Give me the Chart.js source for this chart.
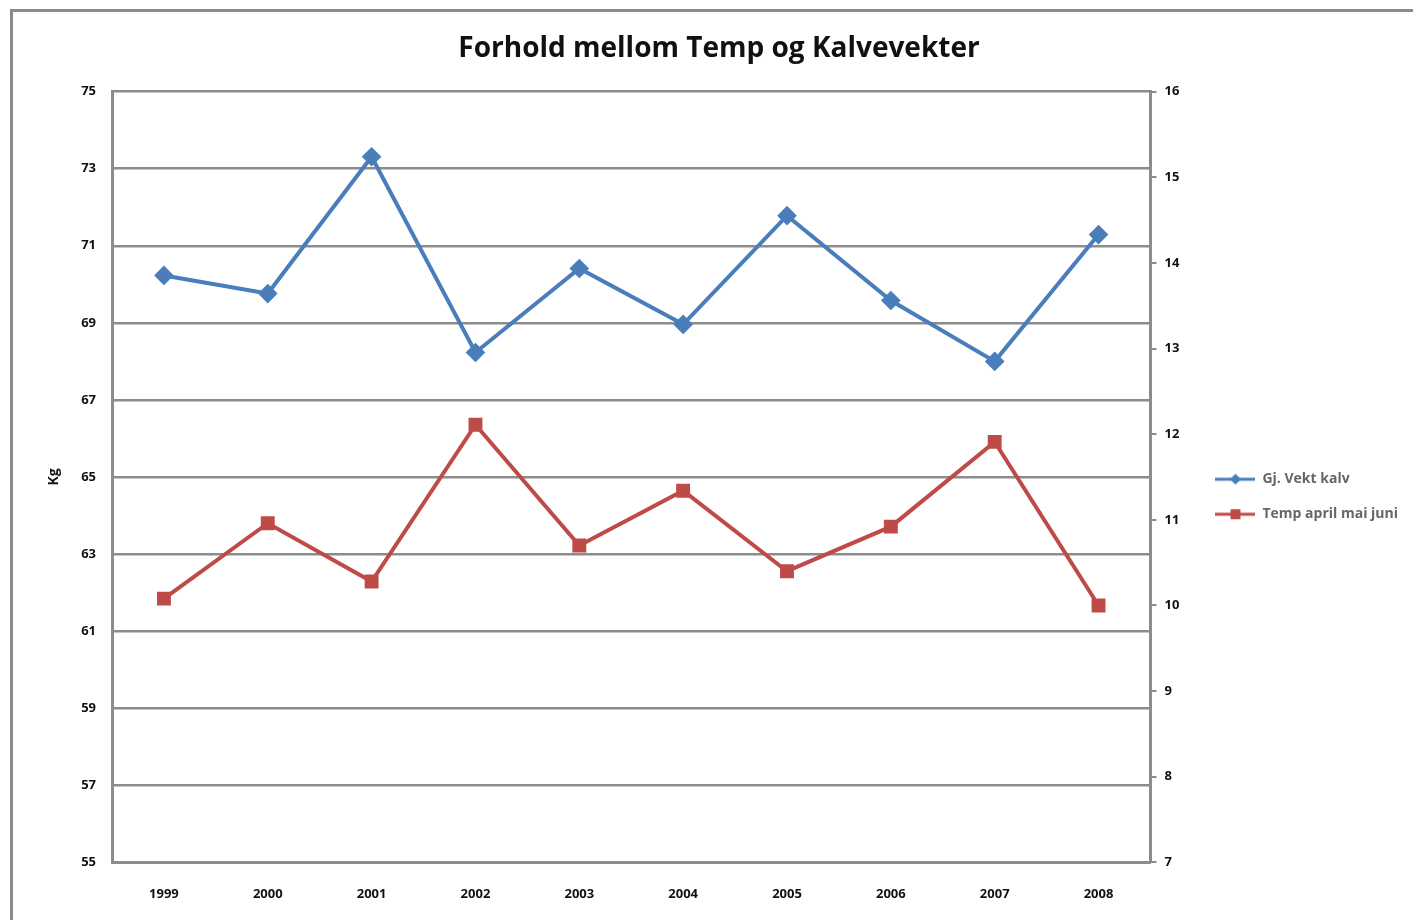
<!DOCTYPE html>
<html><head><meta charset="utf-8">
<script src="https://cdn.jsdelivr.net/npm/chart.js@4"></script>
<style>html,body{margin:0;padding:0;background:#fff}#wrap{width:1413px;height:920px;position:relative}</style>
</head><body><div id="wrap"><canvas id="c" width="1413" height="920"></canvas></div>
<script>
const categories = ['1999','2000','2001','2002','2003','2004','2005','2006','2007','2008'];
const vektKalv = [70.23, 69.76, 73.31, 68.23, 70.41, 68.96, 71.78, 69.58, 68.0, 71.29];
const tempAprilMaiJuni = [10.08, 10.96, 10.28, 12.11, 10.70, 11.34, 10.40, 10.92, 11.91, 10.0];
const seriesNames = ['Gj. Vekt kalv', 'Temp april mai juni'];
const titleText = 'Forhold mellom Temp og Kalvevekter';
const yTitle = 'Kg';

const BLUE = '#4A7EBB', RED = '#BE4B48', GRID = '#8c8c8c';
const FONT = "'Open Sans', 'DejaVu Sans', sans-serif";

function legendIcon(color, shape) {
  const cv = document.createElement('canvas');
  cv.width = 40; cv.height = 14;
  const g = cv.getContext('2d');
  g.strokeStyle = color; g.lineWidth = 3;
  g.beginPath(); g.moveTo(0, 7); g.lineTo(40, 7); g.stroke();
  g.fillStyle = color;
  if (shape === 'diamond') {
    g.beginPath(); g.moveTo(20, 1.5); g.lineTo(25.5, 7); g.lineTo(20, 12.5); g.lineTo(14.5, 7); g.closePath(); g.fill();
  } else {
    g.fillRect(15, 2, 10, 10);
  }
  return cv;
}
const icons = [legendIcon(BLUE, 'diamond'), legendIcon(RED, 'square')];

const outerBorder = {
  id: 'outerBorder',
  beforeDraw(chart) {
    const ctx = chart.ctx;
    ctx.save();
    ctx.fillStyle = '#fff';
    ctx.fillRect(0, 0, chart.width, chart.height);
    ctx.strokeStyle = '#8a8a8a'; ctx.lineWidth = 3;
    ctx.beginPath();
    ctx.moveTo(11.5, 920); ctx.lineTo(11.5, 10.5); ctx.lineTo(1413, 10.5);
    ctx.stroke();
    ctx.restore();
  }
};

new Chart(document.getElementById('c'), {
  type: 'line',
  data: {
    labels: categories,
    datasets: [
      { label: seriesNames[0], data: vektKalv, yAxisID: 'y', borderColor: BLUE, backgroundColor: BLUE,
        borderWidth: 4, pointStyle: 'rectRot', pointRadius: 7, pointHoverRadius: 7, tension: 0 },
      { label: seriesNames[1], data: tempAprilMaiJuni, yAxisID: 'y1', borderColor: RED, backgroundColor: RED,
        borderWidth: 4, pointStyle: 'rect', pointRadius: 7, pointHoverRadius: 7, tension: 0 }
    ]
  },
  options: {
    responsive: false,
    animation: false,
    devicePixelRatio: 1,
    layout: { padding: { left: 30, top: 14, right: 5, bottom: 0 } },
    plugins: {
      tooltip: { enabled: false },
      title: { display: true, text: titleText, color: '#111',
        font: { family: FONT, size: 28, weight: 'bold' }, padding: { top: 18, bottom: 26 } },
      legend: {
        position: 'right',
        title: { display: true, text: '', font: { size: 12 }, padding: { top: 45, bottom: 0 } },
        labels: {
          usePointStyle: true, pointStyleWidth: 40, padding: 21, color: '#111',
          font: { family: FONT, size: 14, weight: 'bold' },
          generateLabels(chart) {
            return chart.data.datasets.map((ds, i) => ({
              text: ds.label, pointStyle: icons[i], datasetIndex: i,
              fillStyle: ds.borderColor, strokeStyle: ds.borderColor, lineWidth: 0, hidden: false
            }));
          }
        }
      }
    },
    scales: {
      x: {
        offset: true,
        grid: { display: false, drawTicks: false },
        border: { display: true, color: GRID, width: 3 },
        ticks: { color: '#111', padding: 24, font: { family: FONT, size: 13, weight: 'bold' } },
        afterFit(s) { s.height -= 6; }
      },
      y: {
        position: 'left', min: 55, max: 75,
        ticks: { stepSize: 2, color: '#111', padding: 16, font: { family: FONT, size: 13, weight: 'bold' } },
        grid: { color: GRID, lineWidth: 2.5, drawTicks: false },
        border: { display: true, color: GRID, width: 3 },
        title: { display: true, text: yTitle, color: '#111', font: { family: FONT, size: 14, weight: 'bold' }, padding: 16 },
        afterFit(s) { s.width = 82; }
      },
      y1: {
        position: 'right', min: 7, max: 16,
        ticks: { stepSize: 1, color: '#111', padding: 8, font: { family: FONT, size: 13, weight: 'bold' } },
        grid: { drawOnChartArea: false, color: GRID, lineWidth: 2, tickLength: 6 },
        border: { display: true, color: GRID, width: 3 },
        afterFit(s) { s.width = 44; }
      }
    }
  },
  plugins: [outerBorder]
});
</script>
</body></html>
